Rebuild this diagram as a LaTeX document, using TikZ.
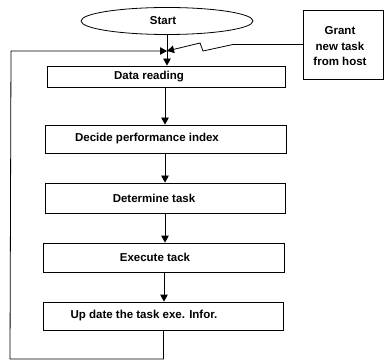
\documentclass[tikz,border=0pt]{standalone}
\usepackage{fontspec}
\setmainfont{Liberation Sans}
\usetikzlibrary{arrows.meta,shapes.geometric}
\begin{document}
\begin{tikzpicture}[x=1pt,y=-1pt,
  every node/.style={font=\fontsize{11.5}{15.5}\selectfont\bfseries},
  stepbox/.style={draw,line width=0.8pt,inner sep=0pt},
  lbl/.style={inner sep=0pt},
  conn/.style={line width=0.8pt},
  arr/.style={line width=0.8pt,-{Triangle[length=7pt,width=7.5pt]}}]
\useasboundingbox (0,0) rectangle (385,363);
% nodes
\node[stepbox,ellipse,minimum width=172pt,minimum height=27pt] (start) at (167,21) {};
\node[lbl] (starttxt) at (163,21) {Start};
\node[stepbox,minimum width=80.5pt,minimum height=69pt] (grant) at (343.5,44.5) {};
\node[lbl,align=center] (granttxt) at (340,46.5) {Grant\\new task\\from host};
\node[stepbox,minimum width=238pt,minimum height=21pt] (read) at (166,76.5) {};
\node[lbl] (readtxt) at (149,77) {Data reading};
\node[stepbox,minimum width=241pt,minimum height=28pt] (decide) at (165.5,139) {};
\node[lbl] (decidetxt) at (147,139) {Decide performance index};
\node[stepbox,minimum width=240pt,minimum height=30pt] (determine) at (165,198) {};
\node[lbl] (determinetxt) at (154,198) {Determine task};
\node[stepbox,minimum width=241pt,minimum height=29pt] (execute) at (164,257.5) {};
\node[lbl] (executetxt) at (155,257.5) {Execute tack};
\node[stepbox,minimum width=240pt,minimum height=28pt] (update) at (163.5,316) {};
\node[lbl] (updatetxt) at (144,316) {Up date the task exe. Infor.};
% helper coordinates
\coordinate (j) at (167,51);
\coordinate (lb) at (10,359);
\coordinate (lt) at (11,51);
\coordinate (z1) at (233,44.5);
\coordinate (z2) at (203,51);
\coordinate (z3) at (200,43);
% connectors
\draw[arr] (start.south) -- (start.south |- read.north);
\draw[arr] (read.south -| 165,0) -- (decide.north -| 165,0);
\draw[arr] (decide.south -| 165,0) -- (determine.north -| 165,0);
\draw[arr] (determine.south -| 165,0) -- (execute.north -| 165,0);
\draw[arr] (execute.south -| 164,0) -- (update.north -| 164,0);
\draw[arr] (update.south) |- (lb) -- (lt) -- (j);
\draw[arr] (grant.west) -- (z1) -- (z2) -- (z3) -- (j);
\end{tikzpicture}
\end{document}
